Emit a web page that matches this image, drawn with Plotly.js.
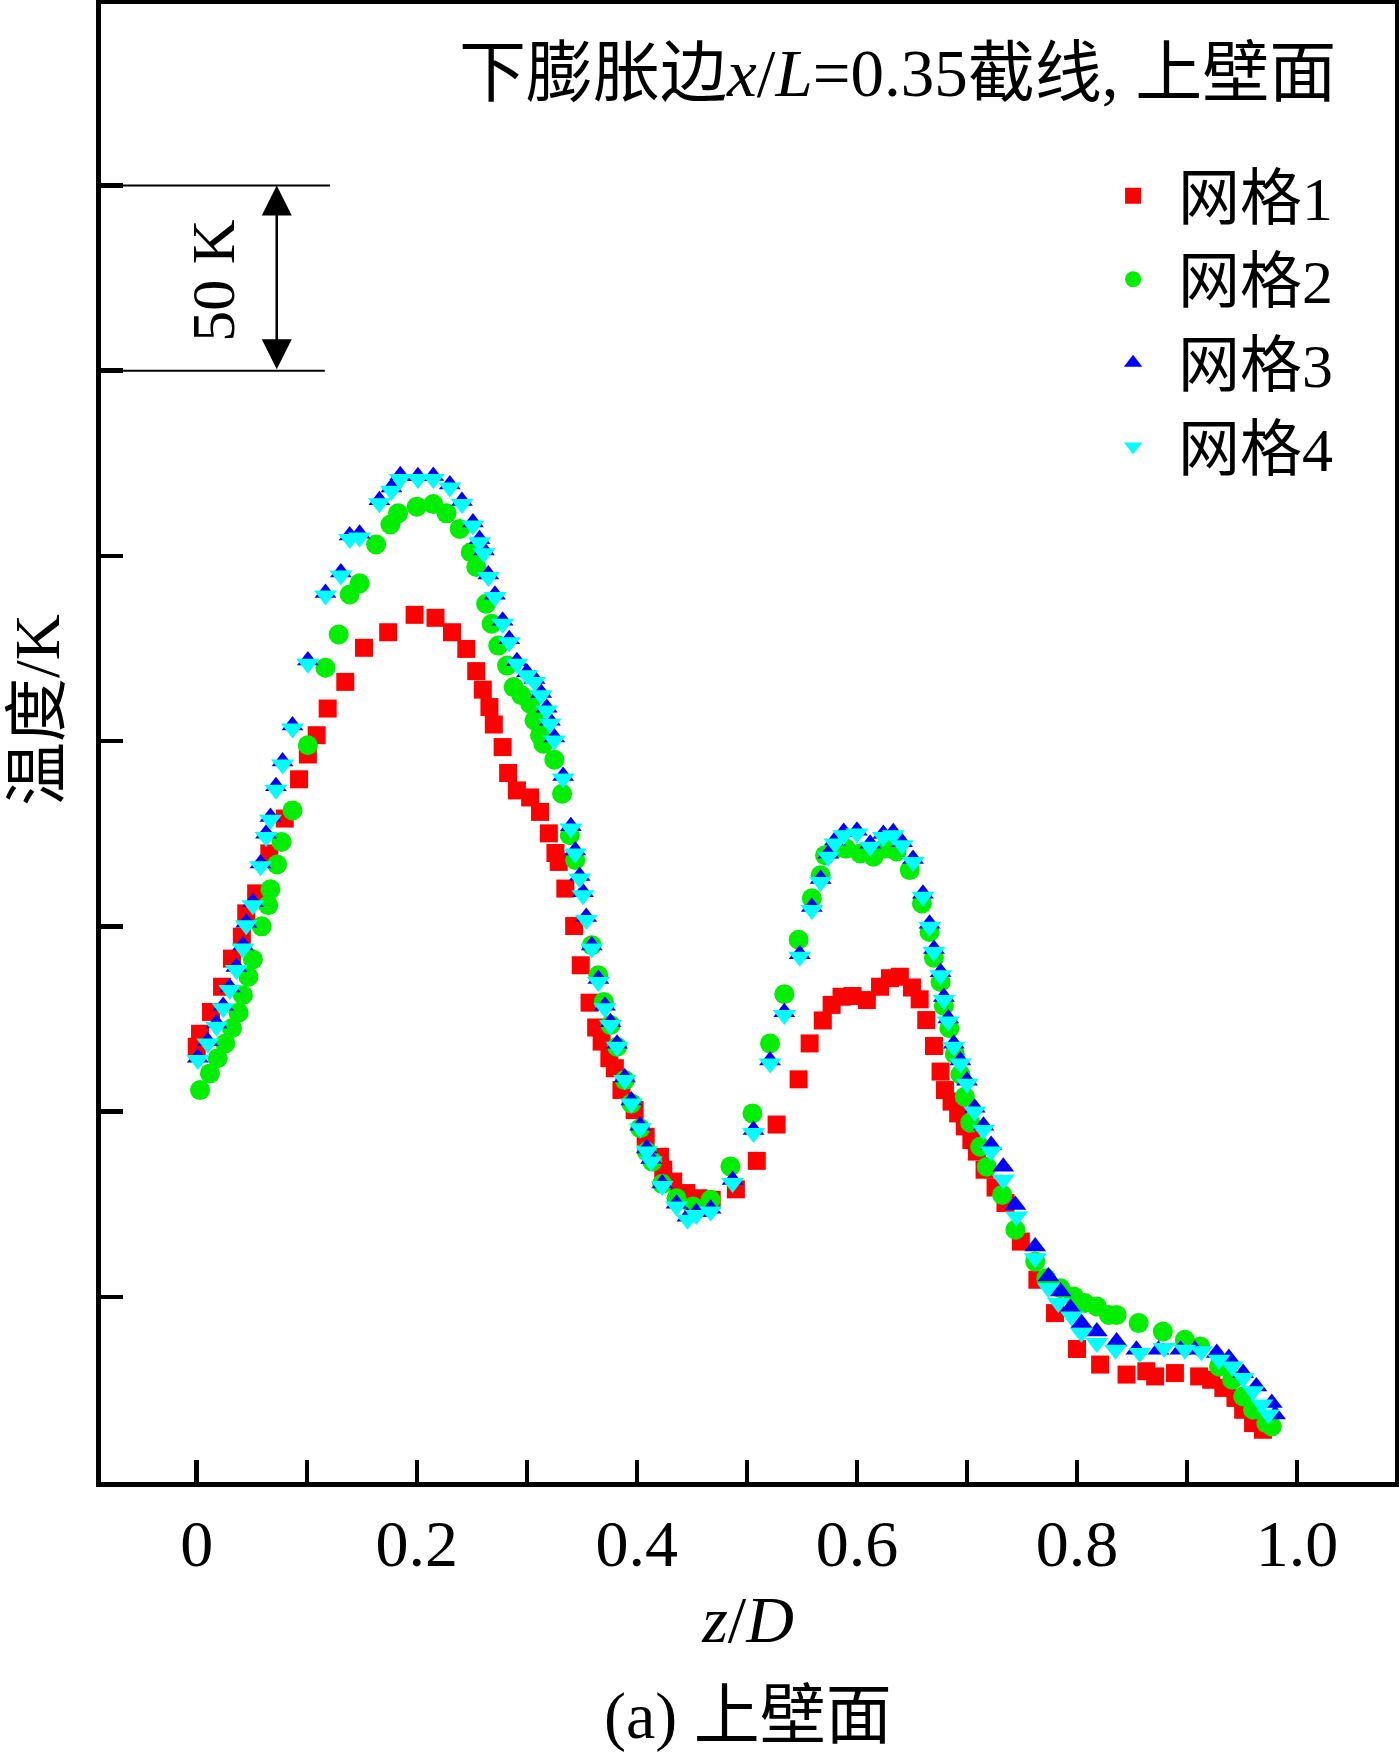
<!DOCTYPE html>
<html>
<head>
<meta charset="utf-8">
<script src="https://cdn.plot.ly/plotly-3.0.1.min.js"></script>
<style>html,body{margin:0;padding:0;background:#fff;}#chart{width:1399px;height:1756px;}</style>
</head>
<body>
<div id="chart"></div>
<script>
// ---- data (z/D and relative temperature in K; one y tick = 50 K) ----
const seriesNames = ["网格1", "网格2", "网格3", "网格4"];

const grid1X = [0.000,0.003,0.013,0.023,0.032,0.041,0.045,0.054,0.066,0.080,0.093,0.101,0.109,0.119,0.135,0.152,0.174,0.198,0.217,0.232,0.245,0.254,0.260,0.266,0.270,0.278,0.283,0.291,0.303,0.312,0.320,0.326,0.329,0.335,0.343,0.349,0.357,0.363,0.368,0.375,0.380,0.386,0.398,0.408,0.421,0.424,0.433,0.445,0.456,0.468,0.490,0.509,0.527,0.547,0.557,0.569,0.577,0.586,0.596,0.609,0.621,0.630,0.639,0.650,0.657,0.663,0.670,0.676,0.680,0.686,0.692,0.698,0.704,0.709,0.716,0.726,0.735,0.749,0.764,0.780,0.800,0.821,0.845,0.863,0.871,0.889,0.911,0.922,0.933,0.944,0.951,0.960,0.969];
const grid1T = [67.5,71.0,76.9,83.7,91.3,97.2,103.5,108.9,119.7,129.1,139.7,146.4,151.6,158.8,166.0,175.2,179.4,184.1,183.3,179.4,174.9,168.9,163.9,159.2,154.5,148.4,141.4,136.7,134.8,130.9,125.1,119.8,117.4,110.2,100.1,89.5,79.4,72.7,68.9,64.4,61.7,55.8,50.4,43.2,37.8,34.3,31.1,28.0,26.6,26.2,29.0,36.7,46.5,58.7,68.4,74.6,78.8,81.0,81.2,80.1,83.7,86.0,86.4,83.5,80.3,74.7,67.7,60.8,55.8,52.7,49.5,46.0,42.3,39.2,34.3,29.5,25.3,14.9,4.6,-4.4,-14.1,-18.3,-21.0,-20.1,-21.5,-20.6,-21.5,-22.4,-24.6,-27.3,-30.5,-34.1,-35.9];

const grid2X = [0.003,0.012,0.019,0.026,0.032,0.038,0.042,0.047,0.051,0.059,0.065,0.067,0.073,0.077,0.087,0.101,0.117,0.129,0.139,0.148,0.163,0.176,0.183,0.200,0.215,0.227,0.239,0.249,0.254,0.263,0.268,0.274,0.282,0.288,0.295,0.303,0.307,0.312,0.315,0.325,0.332,0.339,0.344,0.359,0.365,0.370,0.376,0.382,0.389,0.395,0.403,0.409,0.414,0.423,0.436,0.451,0.467,0.485,0.505,0.521,0.534,0.547,0.559,0.567,0.571,0.580,0.590,0.603,0.615,0.625,0.636,0.648,0.659,0.666,0.670,0.676,0.679,0.684,0.689,0.694,0.698,0.703,0.712,0.718,0.732,0.744,0.762,0.772,0.785,0.797,0.807,0.818,0.829,0.836,0.856,0.878,0.898,0.912,0.929,0.941,0.951,0.960,0.972,0.977];
const grid2T = [55.8,60.3,64.4,68.4,72.5,76.7,81.4,86.4,91.1,100.0,105.7,110.0,116.7,122.8,131.3,148.9,169.8,178.8,189.6,192.6,203.1,208.5,211.5,213.3,214.0,211.5,207.3,201.0,197.0,187.1,181.7,175.8,170.4,164.6,162.4,160.1,155.6,151.6,149.3,145.0,135.8,124.6,117.9,94.9,86.8,79.6,73.4,67.5,58.5,52.2,45.5,39.2,36.5,30.5,26.6,24.4,26.2,35.2,49.5,68.4,81.7,96.4,107.6,113.8,119.2,121.0,121.0,119.7,118.8,121.0,120.2,115.2,106.2,98.5,91.5,85.0,78.5,72.5,65.5,60.0,54.0,47.0,40.5,35.1,27.5,18.1,9.5,5.0,2.3,0.1,-1.7,-2.6,-4.9,-4.9,-7.1,-9.4,-11.6,-13.4,-18.8,-22.4,-26.9,-30.5,-34.1,-35.0];

const grid3X = [0.001,0.010,0.018,0.024,0.030,0.036,0.042,0.045,0.051,0.058,0.063,0.067,0.072,0.078,0.087,0.101,0.117,0.131,0.139,0.148,0.166,0.177,0.185,0.201,0.215,0.230,0.241,0.251,0.257,0.261,0.265,0.271,0.278,0.284,0.291,0.300,0.307,0.313,0.318,0.321,0.325,0.333,0.340,0.344,0.348,0.351,0.354,0.359,0.365,0.371,0.376,0.382,0.389,0.395,0.403,0.409,0.413,0.423,0.436,0.446,0.454,0.467,0.487,0.506,0.521,0.534,0.548,0.559,0.567,0.574,0.580,0.588,0.600,0.612,0.624,0.633,0.641,0.651,0.660,0.666,0.670,0.676,0.679,0.683,0.688,0.694,0.700,0.707,0.715,0.722,0.733,0.744,0.762,0.774,0.785,0.794,0.804,0.818,0.836,0.854,0.874,0.894,0.907,0.927,0.938,0.951,0.963,0.977,0.980];
const grid3T = [64.5,69.0,73.8,78.5,83.5,89.0,94.8,101.0,106.5,117.0,125.0,129.5,137.8,144.5,154.2,171.8,190.0,195.5,205.5,206.0,215.0,218.5,221.8,221.5,221.6,219.3,214.8,209.0,204.5,201.5,195.0,189.5,182.5,177.5,171.6,168.5,166.8,163.0,159.0,155.5,151.0,140.6,127.0,120.5,113.6,109.2,102.5,94.8,85.8,78.6,74.1,68.3,59.2,53.0,46.2,40.0,37.2,30.6,25.1,21.6,22.8,23.8,31.5,45.0,63.8,76.8,92.5,105.2,112.8,119.6,123.2,125.5,125.8,122.3,124.9,125.4,122.7,118.2,108.8,100.7,93.9,87.6,80.9,75.1,68.3,63.8,58.3,51.0,46.2,41.0,35.1,24.8,13.6,5.5,1.4,-3.0,-7.1,-9.4,-12.1,-14.3,-14.3,-14.3,-14.3,-15.2,-16.5,-20.6,-24.2,-28.7,-31.8];

const grid4X = [0.001,0.010,0.018,0.024,0.030,0.036,0.042,0.045,0.051,0.058,0.063,0.067,0.072,0.078,0.087,0.101,0.117,0.131,0.139,0.148,0.166,0.177,0.185,0.201,0.215,0.230,0.241,0.251,0.257,0.261,0.265,0.271,0.278,0.284,0.291,0.300,0.307,0.313,0.318,0.321,0.325,0.333,0.340,0.344,0.348,0.351,0.354,0.359,0.365,0.371,0.376,0.382,0.389,0.395,0.403,0.409,0.413,0.423,0.436,0.446,0.454,0.467,0.487,0.506,0.521,0.534,0.548,0.559,0.567,0.574,0.580,0.588,0.600,0.612,0.624,0.633,0.641,0.651,0.660,0.666,0.670,0.676,0.679,0.683,0.688,0.694,0.700,0.707,0.715,0.722,0.733,0.745,0.762,0.774,0.783,0.795,0.804,0.818,0.835,0.857,0.879,0.898,0.913,0.929,0.941,0.951,0.960,0.968,0.974];
const grid4T = [63.9,68.4,72.9,77.9,82.8,88.2,94.0,100.3,105.7,116.2,124.1,128.8,136.9,143.7,153.4,170.9,189.3,194.7,204.6,205.0,214.2,217.6,220.8,220.8,220.8,218.5,214.0,208.2,203.7,200.7,194.3,188.9,181.7,176.7,170.9,167.8,166.0,162.4,158.3,154.7,150.2,139.9,126.4,119.7,112.9,108.4,101.7,94.0,85.0,77.9,73.4,67.5,58.5,52.2,45.5,39.2,36.5,29.9,24.4,20.8,22.1,23.0,30.7,44.2,63.0,76.1,91.8,104.4,112.0,118.8,122.4,124.6,125.1,121.5,124.1,124.6,121.9,117.4,108.0,99.9,93.1,86.8,80.1,74.3,67.5,63.0,57.5,50.0,45.0,39.2,31.6,21.7,10.4,2.3,-1.7,-5.3,-9.8,-12.5,-14.3,-15.2,-13.8,-14.3,-14.7,-17.0,-18.8,-21.9,-25.5,-29.1,-31.8];

const xTickVals = [0,0.1,0.2,0.3,0.4,0.5,0.6,0.7,0.8,0.9,1.0];
const xTickText = ["0","","0.2","","0.4","","0.6","","0.8","","1.0"];
const yTickVals = [0,50,100,150,200,250,300];

// ---- styling ----
const FONT = "Liberation Serif, Times New Roman, Noto Sans CJK SC, serif";
const colors = ["#ff0000", "#00ee00", "#0000ff", "#00ffff"];
const symbols = ["square", "circle", "triangle-up", "triangle-down"];
const sizes = [18, 20, 19, 20];
const xs = [grid1X, grid2X, grid3X, grid4X];
const ys = [grid1T, grid2T, grid3T, grid4T];

const traces = xs.map((x, i) => ({
  type: "scatter", mode: "markers", name: seriesNames[i],
  x: x, y: ys[i],
  marker: {symbol: symbols[i], color: colors[i], size: sizes[i], line: {width: 0}}
}));

const layout = {
  width: 1399, height: 1756,
  margin: {l: 101, r: 4, t: 4, b: 274},
  paper_bgcolor: "#fff", plot_bgcolor: "#fff",
  font: {family: FONT, color: "#000", size: 64},
  showlegend: true,
  legend: {x: 0.7628, xanchor: "left", y: 0.902, yanchor: "top",
           font: {family: FONT, size: 62, color: "#000"},
           itemwidth: 80, bgcolor: "rgba(0,0,0,0)", tracegroupgap: 0},
  xaxis: {range: [-0.087, 1.089], showgrid: false, zeroline: false,
          showline: true, mirror: true, linecolor: "#000", linewidth: 5,
          ticks: "inside", ticklen: 22, tickwidth: 4.5, tickcolor: "#000",
          tickmode: "array", tickvals: xTickVals, ticktext: xTickText,
          tickfont: {family: FONT, size: 66, color: "#000"},
          title: {text: "<i>z</i>/<i>D</i>", font: {family: FONT, size: 66, color: "#000"}, standoff: 18}},
  yaxis: {range: [-50, 349], showgrid: false, zeroline: false,
          showline: true, mirror: true, linecolor: "#000", linewidth: 5,
          ticks: "inside", ticklen: 22, tickwidth: 4.5, tickcolor: "#000",
          tickmode: "array", tickvals: yTickVals, showticklabels: false},
  shapes: [
    {type: "line", xref: "paper", yref: "y", x0: 0, x1: 0.177, y0: 300, y1: 300, line: {color: "#000", width: 2}},
    {type: "line", xref: "paper", yref: "y", x0: 0, x1: 0.173, y0: 250, y1: 250, line: {color: "#000", width: 2}}
  ],
  annotations: [
    {xref: "paper", yref: "paper", x: 0.956, y: 0.9533, xanchor: "right", yanchor: "middle", showarrow: false,
     text: "下膨胀边<i>x</i>/<i>L</i>=0.35截线, 上壁面", font: {family: FONT, size: 67, color: "#000"}},
    {xref: "paper", yref: "paper", x: -0.0495, y: 0.5223, xanchor: "center", yanchor: "middle", showarrow: false,
     textangle: -90, text: "温度/K", font: {family: FONT, size: 64, color: "#000"}},
    {xref: "paper", yref: "paper", x: 0.5, y: -0.158, xanchor: "center", yanchor: "middle", showarrow: false,
     text: "(a) 上壁面", font: {family: FONT, size: 66, color: "#000"}},
    {xref: "x", yref: "y", x: 0.0145, y: 274.5, xanchor: "center", yanchor: "middle", showarrow: false,
     textangle: -90, text: "50 K", font: {family: FONT, size: 62, color: "#000"}},
    {xref: "x", yref: "y", x: 0.0727, y: 300, axref: "x", ayref: "y", ax: 0.0727, ay: 250,
     showarrow: true, arrowhead: 2, startarrowhead: 2, arrowside: "end+start",
     arrowsize: 2.4, startarrowsize: 2.4, arrowwidth: 2.5, arrowcolor: "#000",
     standoff: 0, startstandoff: 0, text: ""}
  ]
};

Plotly.newPlot("chart", traces, layout, {displayModeBar: false, staticPlot: true});
</script>
</body>
</html>
